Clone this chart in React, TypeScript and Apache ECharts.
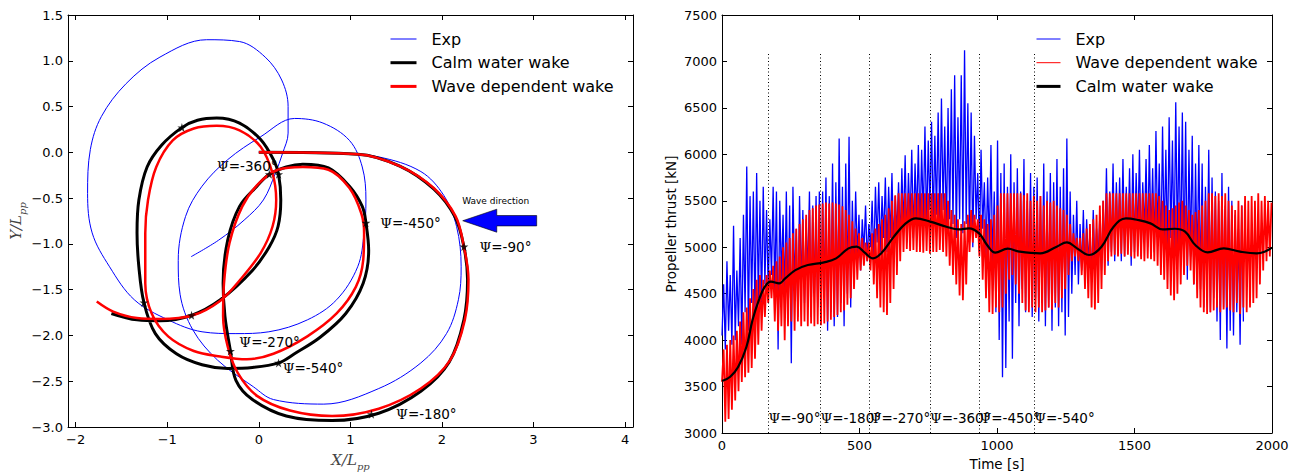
import React, { useEffect, useRef } from 'react';
import * as echarts from 'echarts';

// ---------- Turning trajectories, X/Lpp and Y/Lpp ----------
const expTrack: number[][] = [
  [0, 0], [0.85, -0.01], [1.31, -0.05], [1.77, -0.21], [2.02, -0.47], [2.16, -0.81], [2.21, -1.25],
  [2.18, -1.61], [2.05, -1.98], [1.77, -2.3], [1.31, -2.58], [0.71, -2.75], [0.16, -2.7], [-0.06, -2.56],
  [-0.45, -2.27], [-0.72, -1.94], [-0.86, -1.55], [-0.88, -1.18], [-0.8, -0.7], [-0.62, -0.37],
  [-0.34, -0.08], [0.02, 0.17], [0.39, 0.37], [0.7, 0.32], [0.99, 0.13], [1.13, -0.16], [1.17, -0.52],
  [1.15, -0.88], [1.08, -1.25], [0.85, -1.61], [0.53, -1.83], [0.11, -1.96], [-0.25, -1.98],
  [-0.62, -1.96], [-0.99, -1.83], [-1.36, -1.61], [-1.63, -1.25], [-1.82, -0.88], [-1.87, -0.45],
  [-1.84, 0.03], [-1.72, 0.39], [-1.45, 0.75], [-1.08, 1.04], [-0.57, 1.23], [-0.21, 1.21],
  [0.07, 1.04], [0.25, 0.79], [0.32, 0.5], [0.32, 0.21], [0.26, -0.01], [0.18, -0.23], [0.05, -0.52],
  [-0.16, -0.74], [-0.44, -0.96], [-0.74, -1.14],
];

const calmTrack: number[][] = [
  [0, 0], [1.08, -0.02], [1.54, -0.15], [1.91, -0.4], [2.14, -0.7], [2.24, -1.03], [2.28, -1.39],
  [2.24, -1.83], [2.08, -2.29], [1.77, -2.61], [1.31, -2.85], [0.8, -2.93], [0.3, -2.88], [-0.07, -2.7],
  [-0.25, -2.49], [-0.31, -2.17], [-0.37, -1.79], [-0.39, -1.43], [-0.34, -0.96], [-0.21, -0.59],
  [-0.02, -0.37], [0.115, -0.24], [0.3, -0.16], [0.48, -0.13], [0.76, -0.17], [0.99, -0.37],
  [1.13, -0.59], [1.17, -0.77], [1.2, -1.07], [1.14, -1.43], [0.95, -1.76], [0.67, -2.02], [0.39, -2.2],
  [0.216, -2.3], [-0.07, -2.35], [-0.34, -2.36], [-0.62, -2.32], [-0.9, -2.2], [-1.13, -1.98],
  [-1.255, -1.64], [-1.31, -1.25], [-1.33, -0.88], [-1.31, -0.52], [-1.22, -0.16], [-1.06, 0.08],
  [-0.84, 0.27], [-0.67, 0.35], [-0.46, 0.375], [-0.21, 0.32], [0.02, 0.14], [0.16, -0.08],
  [0.216, -0.24], [0.24, -0.52], [0.21, -0.81], [0.115, -1.03], [-0.07, -1.29], [-0.42, -1.61],
  [-0.735, -1.78], [-1.08, -1.84], [-1.33, -1.83], [-1.61, -1.76],
];

const waveTrack: number[][] = [
  [0, 0], [1.08, -0.02], [1.54, -0.15], [1.91, -0.39], [2.15, -0.7], [2.24, -1.03], [2.29, -1.39],
  [2.25, -1.83], [2.09, -2.27], [1.77, -2.58], [1.31, -2.8], [0.8, -2.88], [0.34, -2.82], [-0.02, -2.66],
  [-0.23, -2.41], [-0.34, -2.12], [-0.39, -1.79], [-0.38, -1.43], [-0.32, -0.99], [-0.18, -0.59],
  [0, -0.34], [0.21, -0.19], [0.48, -0.16], [0.76, -0.19], [0.99, -0.39], [1.12, -0.67], [1.15, -0.88],
  [1.14, -1.18], [1.06, -1.47], [0.85, -1.76], [0.53, -2.01], [0.16, -2.2], [-0.13, -2.26], [-0.42, -2.23],
  [-0.71, -2.17], [-0.99, -2.01], [-1.17, -1.76], [-1.24, -1.43], [-1.24, -0.88], [-1.21, -0.52],
  [-1.12, -0.16], [-0.94, 0.13], [-0.71, 0.26], [-0.46, 0.29], [-0.21, 0.24], [0.02, 0.06],
  [0.15, -0.23], [0.19, -0.52], [0.15, -0.81], [0.02, -1.1], [-0.21, -1.4], [-0.42, -1.62],
  [-0.72, -1.78], [-1.08, -1.82], [-1.33, -1.81], [-1.59, -1.74], [-1.77, -1.63],
];

// Heading markers along the calm-water-wake track
const headingMarks: number[][] = [
  [-0.84, 0.27], [0.115, -0.24], [0.216, -0.24], [1.17, -0.77], [2.24, -1.03],
  [-1.255, -1.64], [-0.735, -1.78], [-0.31, -2.17], [0.216, -2.3], [1.23, -2.86],
];
const headingLabels = ['-360', '-450', '-90', '-270', '-540', '-180'];
const headingLabelX = [-0.457, 1.326, 2.41, -0.213, 0.261, 1.499];
const headingLabelY = [-0.15, -0.77, -1.03, -2.07, -2.36, -2.86];

// ---------- Propeller thrust time histories [kN] ----------
const SAMPLE_STEP = 6; // seconds between successive thrust samples

const expThrust = [
  4050, 4600, 3900, 4850, 4100, 4700, 3950, 5230, 4000, 4750,
  4150, 5100, 3950, 5350, 4300, 5870, 4100, 5550, 4400, 5600,
  4250, 5800, 4450, 5500, 4350, 5650, 4600, 5400, 4550, 5300,
  4700, 5650, 4500, 5600, 3900, 5500, 4650, 5350, 4450, 5600,
  4300, 5450, 3750, 5650, 4600, 5200, 4250, 5550, 4550, 5400,
  4400, 5300, 4700, 5600, 4250, 5450, 4500, 5550, 4350, 5600,
  4200, 5600, 4450, 5750, 4100, 5550, 4300, 5900, 4150, 5700,
  4250, 6170, 4400, 5650, 4150, 5900, 4500, 6190, 4350, 5500,
  4700, 5600, 4900, 5350, 4750, 5300, 4950, 5450, 4850, 5250,
  5000, 5500, 4850, 5650, 5050, 5700, 4950, 5550, 5100, 5750,
  4950, 5650, 5100, 5800, 5000, 5550, 5150, 5700, 5050, 5850,
  5200, 5990, 5050, 5800, 5250, 6050, 5100, 5900, 5300, 6100,
  5150, 6050, 5300, 6300, 5200, 6150, 5400, 6350, 5250, 6200,
  5350, 6450, 5200, 6600, 5400, 6300, 5150, 6500, 5300, 6700,
  5250, 6850, 5100, 6400, 5300, 6850, 5150, 7120, 5250, 6550,
  5100, 6450, 5000, 6200, 5300, 5800, 4950, 6050, 5200, 5700,
  4900, 5750, 5000, 6100, 4800, 5600, 4300, 6150, 4000, 5800,
  3600, 5900, 3700, 5650, 4200, 6000, 3800, 5700, 4400, 5850,
  4150, 5600, 4550, 5950, 4300, 5500, 4600, 5800, 4250, 5650,
  4450, 5750, 4200, 5550, 4400, 5900, 4150, 5600, 4350, 5800,
  4100, 5700, 4350, 5950, 4150, 5650, 4300, 5850, 4050, 6170,
  4250, 5600, 4500, 5350, 4700, 5500, 4600, 5250, 4750, 5400,
  4700, 5300, 4850, 5150, 4650, 5400, 4800, 5200, 4900, 5350,
  4750, 5500, 4900, 5850, 4800, 5600, 4950, 5900, 4850, 5700,
  5000, 5750, 4850, 5950, 4900, 5650, 5000, 5850, 4800, 6000,
  4950, 5800, 5100, 6050, 4900, 5700, 5150, 5950, 5000, 6100,
  5050, 5850, 4950, 6250, 5100, 5900, 4900, 6300, 5050, 6050,
  4950, 6400, 5100, 6150, 4900, 6560, 5000, 6300, 4850, 6450,
  4800, 6350, 4650, 6050, 4900, 6200, 4600, 5900, 4750, 6100,
  4550, 5900, 4350, 5650, 4600, 6050, 4300, 5750, 4450, 5600,
  4200, 5500, 4000, 5800, 4350, 5450, 3910, 5650, 4100, 5500,
  4050, 5350, 4300, 5200, 3950, 5450, 4200,
];

const waveThrust = [
  3550, 3900, 3120, 3950, 3150, 4000, 3250, 4050, 3350, 4100,
  3450, 4200, 3550, 4300, 3600, 4350, 3650, 4450, 3700, 4550,
  3800, 4650, 3950, 4700, 4100, 4650, 4250, 4700, 4400, 4750,
  4450, 4800, 4200, 4850, 4100, 4900, 4150, 5000, 4000, 5050,
  4150, 5100, 4200, 5150, 4100, 5200, 4200, 5250, 4150, 5300,
  4200, 5350, 4150, 5400, 4180, 5420, 4150, 5450, 4170, 5460,
  4160, 5470, 4180, 5480, 4200, 5470, 4220, 5480, 4250, 5470,
  4270, 5460, 4300, 5440, 4320, 5400, 4380, 5350, 4450, 5280,
  4550, 5200, 4650, 5150, 4750, 5100, 4800, 5050, 4850, 5050,
  4750, 5150, 4600, 5200, 4450, 5250, 4350, 5300, 4300, 5350,
  4270, 5420, 4400, 5500, 4550, 5560, 4700, 5580, 4850, 5580,
  4950, 5580, 4980, 5580, 4960, 5580, 4970, 5580, 4950, 5580,
  4950, 5580, 4940, 5580, 4960, 5580, 4930, 5580, 4950, 5580,
  4950, 5580, 4970, 5580, 4950, 5580, 4900, 5500, 4800, 5400,
  4700, 5350, 4600, 5300, 4480, 5250, 4430, 5280, 4600, 5350,
  4950, 5400, 5050, 5350, 5100, 5300, 4900, 5350, 4650, 5300,
  4450, 5250, 4300, 5300, 4280, 5350, 4350, 5450, 4300, 5580,
  4350, 5580, 4500, 5580, 4650, 5580, 4700, 5580, 4600, 5580,
  4500, 5580, 4400, 5560, 4320, 5580, 4300, 5500, 4350, 5550,
  4300, 5500, 4350, 5550, 4300, 5450, 4320, 5500, 4350, 5480,
  4330, 5500, 4400, 5450, 4350, 5420, 4450, 5400, 4550, 5350,
  4700, 5250, 4850, 5150, 4900, 5100, 4850, 5100, 4700, 5150,
  4550, 5200, 4450, 5250, 4350, 5300, 4330, 5350, 4400, 5450,
  4550, 5500, 4700, 5580, 4850, 5580, 4900, 5580, 4920, 5580,
  4900, 5580, 4930, 5580, 4900, 5580, 4920, 5580, 4900, 5580,
  4880, 5580, 4900, 5580, 4870, 5580, 4850, 5580, 4880, 5580,
  4870, 5580, 4850, 5580, 4800, 5550, 4700, 5500, 4650, 5450,
  4550, 5400, 4480, 5420, 4430, 5450, 4500, 5480, 4600, 5500,
  4700, 5450, 4800, 5400, 4750, 5350, 4600, 5380, 4450, 5400,
  4350, 5450, 4300, 5500, 4280, 5580, 4300, 5580, 4320, 5550,
  4350, 5580, 4300, 5550, 4330, 5580, 4350, 5500, 4320, 5450,
  4300, 5400, 4400, 5500, 4280, 5450, 4350, 5550, 4300, 5500,
  4350, 5550, 4400, 5500, 4450, 5580, 4600, 5500, 4750, 5550,
  4850, 5500, 4900, 5480,
];

const calmTime = [
  0, 30, 59, 89, 111, 134, 156, 178, 208, 230, 267, 312, 371, 415, 460, 490, 519, 549, 579, 623,
  668, 705, 757, 816, 861, 898, 935, 964, 994, 1039, 1083, 1157, 1217, 1254, 1291, 1335, 1380, 1424,
  1469, 1513, 1558, 1602, 1647, 1684, 1721, 1766, 1825, 1884, 1944, 1973, 2000,
];
const calmThrust = [
  3559, 3606, 3714, 3929, 4216, 4431, 4575, 4629, 4611, 4665, 4754, 4808, 4837, 4880, 4988, 5006,
  4941, 4880, 4934, 5106, 5257, 5311, 5275, 5221, 5192, 5203, 5149, 5024, 4941, 4984, 4952, 4934,
  5006, 5052, 4988, 4916, 5006, 5221, 5311, 5293, 5257, 5192, 5199, 5167, 5024, 4945, 4988, 4952,
  4934, 4952, 4995,
];

// Heading instants marked on the time histories
const psiTimes = [169, 358, 537, 756, 936, 1135];
const psiNames = ['-90', '-180', '-270', '-360', '-450', '-540'];
const PSI_LINE_BOTTOM = 3000;
const PSI_LINE_TOP = 7100;
const PSI_LABEL_LEVEL = 3160;

// Wave direction arrow, in trajectory coordinates
const arrowTipX = 2.227;
const arrowHeadX = 2.599;
const arrowTailX = 3.035;
const arrowY = -0.747;

const SANS = 'DejaVu Sans';
const SERIF = 'DejaVu Serif';
const BLUE = '#0000ff';
const RED = '#ff0000';
const STAR =
  'path://M50,0 L61,35 L98,35 L68,57 L79,91 L50,70 L21,91 L32,57 L2,35 L39,35 Z';

const minus = (s: string) => s.replace('-', '\u2212');

function buildOption(): any {
  const tickCommon = { show: true, inside: true, length: 5, lineStyle: { color: '#000', width: 1 } };
  const lineCommon = { show: true, onZero: false, lineStyle: { color: '#000', width: 1 } };
  const labelCommon = { color: '#000', fontFamily: SANS, fontSize: 13 };
  const xTrackTicks = [-2, -1, 0, 1, 2, 3, 4];
  const X_MIN = -2.084;
  const X_MAX = 4.087;

  const nameRich = {
    i: { fontFamily: SERIF, fontStyle: 'italic', fontSize: 15, color: '#444', lineHeight: 18, verticalAlign: 'top' },
    s: { fontFamily: SERIF, fontStyle: 'italic', fontSize: 10, color: '#444', lineHeight: 10, verticalAlign: 'top', padding: [9, 0, 0, 0] },
  };

  const sampled = (vals: number[]) => vals.map((v, i) => [i * SAMPLE_STEP, v]);
  const plain = (v: number) => String(v);
  const hideSymbol = { opacity: 0 };

  const legendBase = {
    orient: 'vertical', top: 31, itemHeight: 16, itemGap: 7.7, padding: 0,
    selectedMode: false,
  };

  return {
    animation: false,
    backgroundColor: '#fff',
    textStyle: { fontFamily: SANS },
    grid: [
      { left: 68, top: 15, width: 565, height: 412, outerBoundsMode: 'none' },
      { left: 722, top: 15, width: 550, height: 418, outerBoundsMode: 'none' },
    ],
    legend: [
      {
        ...legendBase, left: 389, itemWidth: 26,
        textStyle: { fontFamily: SANS, fontSize: 16, color: '#000', padding: [0, 0, 0, 10] },
        data: [
          { name: 'Exp', lineStyle: { width: 1 }, itemStyle: hideSymbol },
          { name: 'Calm water wake', lineStyle: { width: 3 }, itemStyle: hideSymbol },
          { name: 'Wave dependent wake', lineStyle: { width: 3 }, itemStyle: hideSymbol },
        ],
      },
      {
        ...legendBase, left: 1035, itemWidth: 24,
        textStyle: { fontFamily: SANS, fontSize: 16, color: '#000', padding: [0, 0, 0, 10] },
        data: [
          { name: 'Exp', lineStyle: { width: 1 }, itemStyle: hideSymbol },
          { name: 'Wave dependent wake', lineStyle: { width: 1 }, itemStyle: hideSymbol },
          { name: 'Calm water wake', lineStyle: { width: 3 }, itemStyle: hideSymbol },
        ],
      },
    ],
    xAxis: [
      {
        type: 'value', gridIndex: 0, position: 'bottom', min: X_MIN, max: X_MAX,
        axisLine: lineCommon,
        axisTick: { ...tickCommon, customValues: xTrackTicks },
        axisLabel: { ...labelCommon, margin: 6, customValues: xTrackTicks, formatter: (v: number) => minus(String(v)) },
        splitLine: { show: false },
        name: '{i|X/L}{s|pp}', nameLocation: 'middle', nameGap: 25,
        nameTextStyle: { rich: nameRich },
      },
      {
        type: 'value', gridIndex: 0, position: 'top', min: X_MIN, max: X_MAX,
        axisLine: lineCommon,
        axisTick: { ...tickCommon, customValues: xTrackTicks },
        axisLabel: { show: false },
        splitLine: { show: false },
      },
      {
        type: 'value', gridIndex: 1, position: 'bottom', min: 0, max: 2000, interval: 500,
        axisLine: lineCommon, axisTick: tickCommon,
        axisLabel: { ...labelCommon, margin: 6, formatter: plain },
        splitLine: { show: false },
        name: 'Time [s]', nameLocation: 'middle', nameGap: 21,
        nameTextStyle: { fontFamily: SANS, fontSize: 13.5, color: '#000' },
      },
      {
        type: 'value', gridIndex: 1, position: 'top', min: 0, max: 2000, interval: 500,
        axisLine: lineCommon, axisTick: tickCommon, axisLabel: { show: false }, splitLine: { show: false },
      },
    ],
    yAxis: [
      {
        type: 'value', gridIndex: 0, position: 'left', min: -3, max: 1.5, interval: 0.5,
        axisLine: lineCommon, axisTick: tickCommon,
        axisLabel: { ...labelCommon, margin: 5, formatter: (v: number) => minus(v.toFixed(1)) },
        splitLine: { show: false },
        name: '{i|Y/L}{s|pp}', nameLocation: 'middle', nameGap: 42,
        nameTextStyle: { rich: nameRich },
      },
      {
        type: 'value', gridIndex: 0, position: 'right', min: -3, max: 1.5, interval: 0.5,
        axisLine: lineCommon, axisTick: tickCommon, axisLabel: { show: false }, splitLine: { show: false },
      },
      {
        type: 'value', gridIndex: 1, position: 'left', min: 3000, max: 7500, interval: 500,
        axisLine: lineCommon, axisTick: tickCommon,
        axisLabel: { ...labelCommon, margin: 5, formatter: plain },
        splitLine: { show: false },
        name: 'Propeller thrust [kN]', nameLocation: 'middle', nameGap: 44,
        nameTextStyle: { fontFamily: SANS, fontSize: 13.5, color: '#000' },
      },
      {
        type: 'value', gridIndex: 1, position: 'right', min: 3000, max: 7500, interval: 500,
        axisLine: lineCommon, axisTick: tickCommon, axisLabel: { show: false }, splitLine: { show: false },
      },
    ],
    series: [
      {
        name: 'Exp', type: 'line', xAxisIndex: 0, yAxisIndex: 0, data: expTrack,
        symbol: 'none', smooth: 0.35, color: BLUE, lineStyle: { color: BLUE, width: 1 }, silent: true,
      },
      {
        name: 'Calm water wake', type: 'line', xAxisIndex: 0, yAxisIndex: 0, data: calmTrack,
        symbol: 'none', smooth: 0.35, color: '#000', lineStyle: { color: '#000', width: 3 }, silent: true,
      },
      {
        name: 'Wave dependent wake', type: 'line', xAxisIndex: 0, yAxisIndex: 0, data: waveTrack,
        symbol: 'none', smooth: 0.35, color: RED, lineStyle: { color: RED, width: 2.5 }, silent: true,
      },
      {
        name: 'heading', type: 'scatter', xAxisIndex: 0, yAxisIndex: 0, data: headingMarks,
        symbol: STAR, symbolSize: 9, itemStyle: { color: '#000' }, silent: true, z: 5,
      },
      {
        name: 'Exp', type: 'line', xAxisIndex: 2, yAxisIndex: 2, data: sampled(expThrust),
        symbol: 'none', color: BLUE, lineStyle: { color: BLUE, width: 1.3 }, silent: true,
      },
      {
        name: 'Wave dependent wake', type: 'line', xAxisIndex: 2, yAxisIndex: 2, data: sampled(waveThrust),
        symbol: 'none', color: RED, lineStyle: { color: RED, width: 1.8 }, silent: true,
      },
      {
        name: 'Calm water wake', type: 'line', xAxisIndex: 2, yAxisIndex: 2,
        data: calmTime.map((t, i) => [t, calmThrust[i]]),
        symbol: 'none', smooth: 0.4, color: '#000', lineStyle: { color: '#000', width: 2.2 }, silent: true,
      },
      {
        name: 'psi', type: 'line', xAxisIndex: 2, yAxisIndex: 2, data: [], silent: true,
        markLine: {
          silent: true, symbol: 'none', label: { show: false },
          lineStyle: { color: '#000', width: 1, type: [1, 2.5] },
          data: psiTimes.map((t) => [{ coord: [t, PSI_LINE_BOTTOM] }, { coord: [t, PSI_LINE_TOP] }]),
        },
      },
    ],
  };
}

function App() {
  const ref = useRef<HTMLDivElement>(null);
  useEffect(() => {
    const chart = echarts.init(ref.current as HTMLDivElement, null, { renderer: 'svg' });
    chart.setOption(buildOption());

    const toPx = (gridIndex: number, x: number, y: number) =>
      chart.convertToPixel({ gridIndex } as any, [x, y]) as number[];

    const psiRich = { p: { fontFamily: SERIF, fontSize: 13.5, fill: '#000' } };
    const graphics: any[] = [];

    headingLabels.forEach((lab, i) => {
      const [px, py] = toPx(0, headingLabelX[i], headingLabelY[i]);
      graphics.push({
        type: 'text', x: px, y: py, silent: true, z: 10,
        style: {
          text: `{p|\u03a8}=${lab}\u00b0`, rich: psiRich, fill: '#000',
          fontFamily: SANS, fontSize: 13.5, align: 'left', verticalAlign: 'middle',
        },
      });
    });

    psiTimes.forEach((t, i) => {
      const [px, py] = toPx(1, t, PSI_LABEL_LEVEL);
      graphics.push({
        type: 'text', x: px, y: py, silent: true, z: 10,
        style: {
          text: `{p|\u03a8}=${psiNames[i]}\u00b0`, rich: psiRich, fill: '#000',
          fontFamily: SANS, fontSize: 13.5, align: 'left', verticalAlign: 'middle',
        },
      });
    });

    // wave direction arrow
    const [tipX, tipY] = toPx(0, arrowTipX, arrowY);
    const [headX] = toPx(0, arrowHeadX, arrowY);
    const [tailX] = toPx(0, arrowTailX, arrowY);
    const headHalf = 11.5;
    const shaftHalf = 5.2;
    graphics.push({
      type: 'polygon', silent: true, z: 10,
      shape: {
        points: [
          [tipX, tipY], [headX, tipY - headHalf], [headX, tipY - shaftHalf], [tailX, tipY - shaftHalf],
          [tailX, tipY + shaftHalf], [headX, tipY + shaftHalf], [headX, tipY + headHalf],
        ],
      },
      style: { fill: BLUE, stroke: '#000', lineWidth: 0.6 },
    });
    graphics.push({
      type: 'text', x: (tipX + tailX) / 2 - 4, y: tipY - 20, silent: true, z: 10,
      style: { text: 'Wave direction', fill: '#000', fontFamily: SANS, fontSize: 9, align: 'center', verticalAlign: 'middle' },
    });

    chart.setOption({ graphic: graphics });
    return () => chart.dispose();
  }, []);

  return (
    <div
      ref={ref}
      style={{ position: 'absolute', left: 0, top: 0, width: 1301, height: 472, background: '#fff' }}
    />
  );
}

export default App;
